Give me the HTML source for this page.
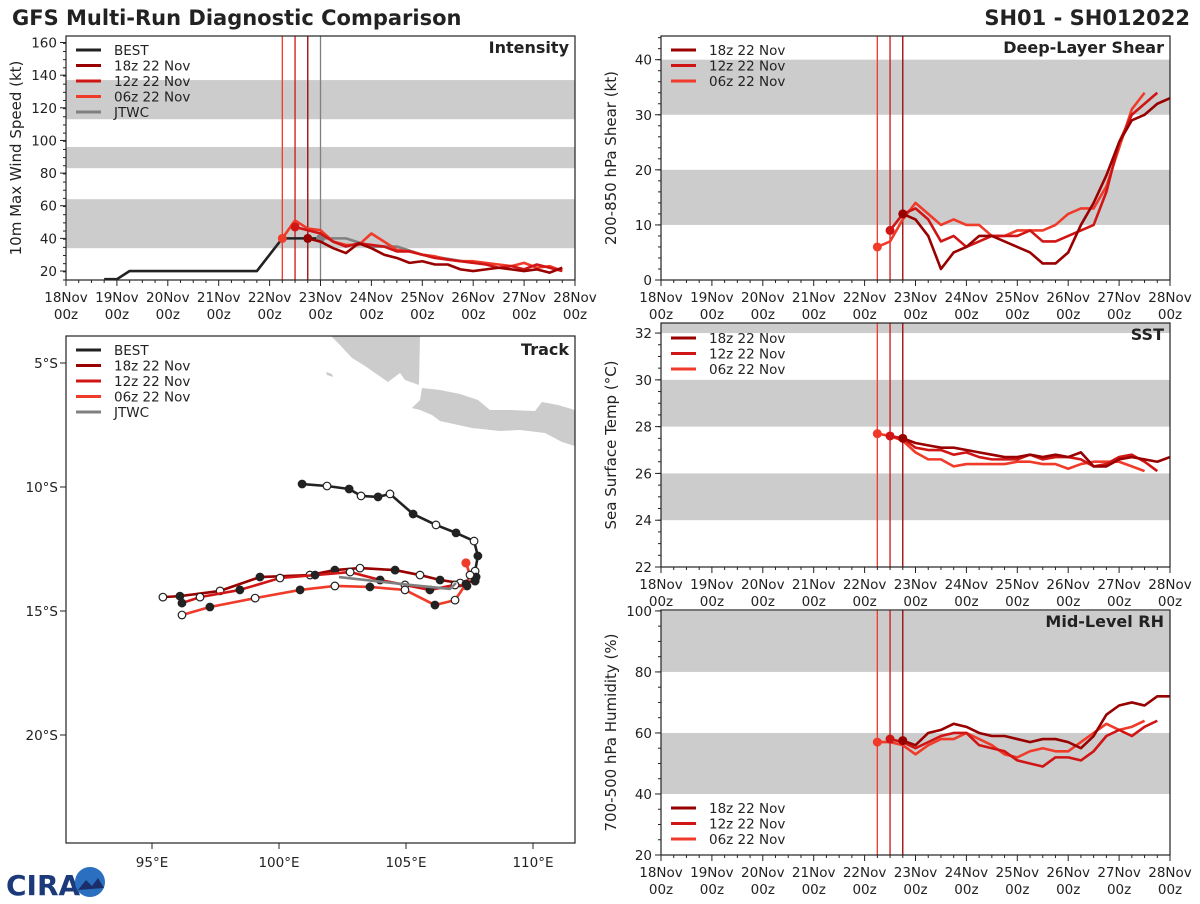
<!DOCTYPE html>
<html><head><meta charset="utf-8">
<style>
body{margin:0;background:#fff;font-family:"DejaVu Sans","Liberation Sans",sans-serif;}
svg text{font-family:"DejaVu Sans","Liberation Sans",sans-serif;}
</style></head>
<body>
<svg id="chart" width="1200" height="900" xmlns="http://www.w3.org/2000/svg">
<text x="12" y="25" font-size="21" font-weight="bold" fill="#222">GFS Multi-Run Diagnostic Comparison</text>
<text x="1190" y="25" font-size="21" font-weight="bold" fill="#222" text-anchor="end">SH01 - SH012022</text>
<g>
<text x="6" y="895" font-size="28" font-weight="bold" fill="#1c3a7a" font-family="Liberation Serif">CIRA</text>
<circle cx="90" cy="882" r="15" fill="#2a6fc0"/>
<path d="M78,890 L86,880 L92,886 L98,878 L104,888 Z" fill="#1c2e6a"/>
</g>
</svg>
<script>
const NS='http://www.w3.org/2000/svg';
const svg=document.getElementById('chart');
function mk(tag,attrs,parent){const e=document.createElementNS(NS,tag);for(const k in attrs)e.setAttribute(k,attrs[k]);(parent||svg).appendChild(e);return e;}

const C18='#990000',C12='#d01515',C06='#f03a2a',CB='#222222',CJ='#808080';
const dayTicks=['18Nov','19Nov','20Nov','21Nov','22Nov','23Nov','24Nov','25Nov','26Nov','27Nov','28Nov'];

// Intensity data (times in days since 18Nov00z)
const bestT=[0.75,1.0,1.25,3.75,4.25,5.0];
const bestV=[15,15,20,20,40,40];
const jtwcT=[5.0,5.5,6.0,6.5,7.0,8.0];
const jtwcV=[40,40,35,35,30,25];
const int06=[40,51,46,45,38,36,36,43,38,33,32,30,29,27,26,26,25,24,23,25,22,23,20];
const int12=[47,45,43,38,35,37,36,35,32,32,30,28,27,26,25,24,22,23,21,24,22,20];
const int18=[40,38,34,31,37,34,30,28,25,26,24,24,21,20,21,22,21,20,21,19,22];
// Shear
const sh06=[6,7,11,14,12,10,11,10,10,8,8,9,9,9,10,12,13,13,17,24,31,34];
const sh12=[9,12,13,11,7,8,6,7,8,8,8,9,7,7,8,9,10,16,25,30,32,34];
const sh18=[12,11,8,2,5,6,8,8,7,6,5,3,3,5,10,14,19,25,29,30,32,33];
// SST
const sst06=[27.7,27.6,27.4,26.9,26.6,26.6,26.3,26.4,26.4,26.4,26.4,26.5,26.5,26.4,26.4,26.2,26.4,26.5,26.5,26.5,26.3,26.1];
const sst12=[27.6,27.5,27.1,27.0,27.0,26.8,26.9,26.7,26.6,26.6,26.6,26.8,26.6,26.7,26.7,26.6,26.3,26.4,26.7,26.8,26.5,26.1];
const sst18=[27.5,27.3,27.2,27.1,27.1,27.0,26.9,26.8,26.7,26.7,26.8,26.7,26.8,26.7,26.9,26.3,26.3,26.6,26.7,26.6,26.5,26.7];
// RH
const rh06=[57,57,56,53,56,58,58,60,58,56,53,52,54,55,54,54,57,60,63,61,62,64];
const rh12=[58,57,55,57,59,60,60,56,55,54,51,50,49,52,52,51,54,59,61,59,62,64];
const rh18=[57.5,56,60,61,63,62,60,59,59,58,57,58,58,57,55,59,66,69,70,69,72,72];
// Track
const bestLon=[100.91,101.89,102.76,103.23,103.90,104.37,105.28,106.18,106.97,107.68,107.83,107.72,107.76,107.72];
const bestLat=[-9.88,-9.96,-10.08,-10.36,-10.40,-10.28,-11.09,-11.53,-11.85,-12.18,-12.78,-13.39,-13.63,-13.79];
const t18Lon=[107.72,107.13,106.34,105.55,104.57,103.19,102.2,101.22,99.25,97.68,96.1,95.43];
const t18Lat=[-13.79,-13.87,-13.75,-13.55,-13.35,-13.27,-13.35,-13.55,-13.63,-14.19,-14.4,-14.44];
const t12Lon=[107.4,106.93,105.94,104.96,103.98,102.8,101.42,100.04,98.46,96.89,96.18];
const t12Lat=[-13.99,-13.95,-14.15,-13.95,-13.75,-13.43,-13.55,-13.67,-14.15,-14.44,-14.68];
const t06Lon=[107.36,107.52,107.36,106.93,106.14,104.96,103.58,102.2,100.83,99.06,97.28,96.18];
const t06Lat=[-13.06,-13.55,-13.91,-14.56,-14.76,-14.15,-14.03,-13.99,-14.15,-14.48,-14.84,-15.16];
const jLon=[102.36,105.16,106.73,106.97];
const jLat=[-13.63,-13.95,-14.11,-13.87];

function timePanel(o){
  const g=mk('g',{});
  
  
  const x=t=>o.x0+(o.x1-o.x0)*t/10;
  const y=v=>o.y1-(o.y1-o.y0)*(v-o.vmin)/(o.vmax-o.vmin);
  o.bands.forEach(b=>{const r=mk('rect',{x:o.x0,y:y(Math.min(b[1],o.vmax)),width:o.x1-o.x0,height:y(b[0])-y(Math.min(b[1],o.vmax)),fill:'#cccccc'},g);
    });
  o.vlines.forEach(v=>{const l=mk('line',{x1:x(v[0]),x2:x(v[0]),y1:o.y0,y2:o.y1,stroke:v[1],'stroke-width':1.3},g);
    });
  const line=(ts,vs,col,nm,dot)=>{
    const p=mk('polyline',{points:ts.map((t,i)=>x(t)+','+y(vs[i])).join(' '),fill:'none',stroke:col,'stroke-width':2.6,'stroke-linejoin':'round'},g);
    
    if(dot){const c=mk('circle',{cx:x(ts[0]),cy:y(vs[0]),r:4.5,fill:col},g);
      }
  };
  const run=(start,vs)=>vs.map((_,i)=>start+0.25*i);
  o.series.forEach(s=>{const ts=s.t||run(s.start,s.v);line(ts,s.v,s.c,s.n,s.dot);});
  const fr=mk('rect',{x:o.x0,y:o.y0,width:o.x1-o.x0,height:o.y1-o.y0,fill:'none',stroke:'#222','stroke-width':1.2},g);
  
  for(let d=0;d<=10;d++){
    mk('line',{x1:x(d),x2:x(d),y1:o.y1,y2:o.y1+6,stroke:'#222'},g);
    for(let q=1;q<4&&d<10;q++)mk('line',{x1:x(d+q/4),x2:x(d+q/4),y1:o.y1,y2:o.y1+3,stroke:'#222'},g);
    const t=mk('text',{x:x(d),y:o.y1+22,'font-size':13.5,'text-anchor':'middle',fill:'#222'},g);t.textContent=dayTicks[d];
    
    const t2=mk('text',{x:x(d),y:o.y1+39,'font-size':13.5,'text-anchor':'middle',fill:'#222'},g);t2.textContent='00z';
    
  }
  o.yticks.forEach(v=>{mk('line',{x1:o.x0-6,x2:o.x0,y1:y(v),y2:y(v),stroke:'#222'},g);
    const t=mk('text',{x:o.x0-9,y:y(v)+5,'font-size':13.5,'text-anchor':'end',fill:'#222'},g);t.textContent=v;
    });
  for(let v=o.vmin;v<=o.vmax;v+=o.minor)mk('line',{x1:o.x0-3,x2:o.x0,y1:y(v),y2:y(v),stroke:'#222'},g);
  const yl=mk('text',{x:0,y:0,'font-size':15,'text-anchor':'middle',fill:'#222',transform:`translate(${o.x0-45},${(o.y0+o.y1)/2}) rotate(-90)`},g);
  yl.textContent=o.ylabel;
  const tt=mk('text',{x:o.x1-6,y:o.y0+17,'font-size':16,'font-weight':'bold','text-anchor':'end',fill:'#222'},g);
  tt.textContent=o.title;
  legend(g,o.x0+10,o.legY,o.legend);
}
function legend(g,lx,ly,items){
  items.forEach((it,i)=>{
    const l=mk('line',{x1:lx,x2:lx+25,y1:ly+i*15.5,y2:ly+i*15.5,stroke:it[1],'stroke-width':3},g);
    
    const t=mk('text',{x:lx+38,y:ly+i*15.5+5,'font-size':13.5,fill:'#222'},g);t.textContent=it[0];
    
  });
}
const vl=[[4.25,C06],[4.5,C12],[4.75,C18]];
const runLeg=[['18z 22 Nov',C18],['12z 22 Nov',C12],['06z 22 Nov',C06]];

timePanel({name:'intensity-panel',x0:66,x1:575,y0:36,y1:280,vmin:14.5,vmax:164,bands:[[34,64],[83,96],[113,137]],
 vlines:[...vl,[5.0,CJ]],yticks:[20,40,60,80,100,120,140,160],minor:5,ylabel:'10m Max Wind Speed (kt)',title:'Intensity',legY:50,
 legend:[['BEST',CB],...runLeg,['JTWC',CJ]],
 series:[{t:bestT,v:bestV,c:CB,n:'best-intensity-line'},{t:jtwcT,v:jtwcV,c:CJ,n:'jtwc-intensity-line',dot:true},
 {start:4.25,v:int06,c:C06,n:'run-06z-intensity',dot:true},{start:4.5,v:int12,c:C12,n:'run-12z-intensity',dot:true},{start:4.75,v:int18,c:C18,n:'run-18z-intensity',dot:true}]});
timePanel({name:'shear-panel',x0:661,x1:1170,y0:36,y1:280,vmin:0,vmax:44.3,bands:[[10,20],[30,40]],vlines:vl,yticks:[0,10,20,30,40],minor:2,
 ylabel:'200-850 hPa Shear (kt)',title:'Deep-Layer Shear',legY:50,legend:runLeg,
 series:[{start:4.25,v:sh06,c:C06,n:'run-06z-shear',dot:true},{start:4.5,v:sh12,c:C12,n:'run-12z-shear',dot:true},{start:4.75,v:sh18,c:C18,n:'run-18z-shear',dot:true}]});
timePanel({name:'sst-panel',x0:661,x1:1170,y0:323,y1:567,vmin:22,vmax:32.43,bands:[[24,26],[28,30],[32,33]],vlines:vl,yticks:[22,24,26,28,30,32],minor:0.5,
 ylabel:'Sea Surface Temp (°C)',title:'SST',legY:338,legend:runLeg,
 series:[{start:4.25,v:sst06,c:C06,n:'run-06z-sst',dot:true},{start:4.5,v:sst12,c:C12,n:'run-12z-sst',dot:true},{start:4.75,v:sst18,c:C18,n:'run-18z-sst',dot:true}]});
timePanel({name:'rh-panel',x0:661,x1:1170,y0:610,y1:855,vmin:20,vmax:100.3,bands:[[40,60],[80,100]],vlines:vl,yticks:[20,40,60,80,100],minor:5,
 ylabel:'700-500 hPa Humidity (%)',title:'Mid-Level RH',legY:808,legend:runLeg,
 series:[{start:4.25,v:rh06,c:C06,n:'run-06z-rh',dot:true},{start:4.5,v:rh12,c:C12,n:'run-12z-rh',dot:true},{start:4.75,v:rh18,c:C18,n:'run-18z-rh',dot:true}]});

(function(){
  const g=mk('g',{});
  
  const X0=66,X1=575,Y0=336,Y1=843;
  const lx=lon=>152+(lon-95)*25.4, ly=lat=>363+(-5-lat)*24.8;
  const land1=mk('polygon',{points:'331,336 420,336 419,385 405,380 400,373 388,382 378,375 365,366 352,358 340,345',fill:'#cccccc'},g);
  
  const land2=mk('polygon',{points:'422,388 440,390 460,394 478,400 490,410 510,410 535,411 542,402 558,405 575,410 575,446 562,442 545,433 520,430 500,431 472,428 440,421 432,415 420,410 412,408 420,400',fill:'#cccccc'},g);
  
  mk('polygon',{points:'326,372 332,374 333,377 327,375',fill:'#cccccc'},g);
  const tr=(lons,lats,col,nm,dots)=>{
    const p=mk('polyline',{points:lons.map((v,i)=>lx(v)+','+ly(lats[i])).join(' '),fill:'none',stroke:col,'stroke-width':2.6,'stroke-linejoin':'round'},g);
    
    if(dots)lons.forEach((v,i)=>{
      const c=mk('circle',{cx:lx(v),cy:ly(lats[i]),r:3.8,fill:i%2?'#fff':'#222',stroke:'#222','stroke-width':1.2},g);
      });
  };
  tr(bestLon,bestLat,CB,'best-track',true);
  tr(t18Lon,t18Lat,C18,'run-18z-track',true);
  tr(t12Lon,t12Lat,C12,'run-12z-track',true);
  tr(t06Lon,t06Lat,C06,'run-06z-track',true);
  tr(jLon,jLat,CJ,'jtwc-track',false);
  const s=mk('circle',{cx:lx(t06Lon[0]),cy:ly(t06Lat[0]),r:4.5,fill:C06},g);
  
  mk('rect',{x:X0,y:Y0,width:X1-X0,height:Y1-Y0,fill:'none',stroke:'#222','stroke-width':1.2},g);
  [95,100,105,110].forEach(v=>{mk('line',{x1:lx(v),x2:lx(v),y1:Y1,y2:Y1+6,stroke:'#222'},g);
    const t=mk('text',{x:lx(v),y:Y1+24,'font-size':13.5,'text-anchor':'middle',fill:'#222'},g);t.textContent=v+'°E';
    });
  [5,10,15,20].forEach(v=>{mk('line',{x1:X0-6,x2:X0,y1:ly(-v),y2:ly(-v),stroke:'#222'},g);
    const t=mk('text',{x:X0-8,y:ly(-v)+5,'font-size':13.5,'text-anchor':'end',fill:'#222'},g);t.textContent=v+'°S';
    });
  const tt=mk('text',{x:X1-6,y:Y0+19,'font-size':16,'font-weight':'bold','text-anchor':'end',fill:'#222'},g);
  tt.textContent='Track';
  legend(g,X0+10,Y0+14,[['BEST',CB],...runLeg,['JTWC',CJ]]);
})();
</script>
</body></html>
